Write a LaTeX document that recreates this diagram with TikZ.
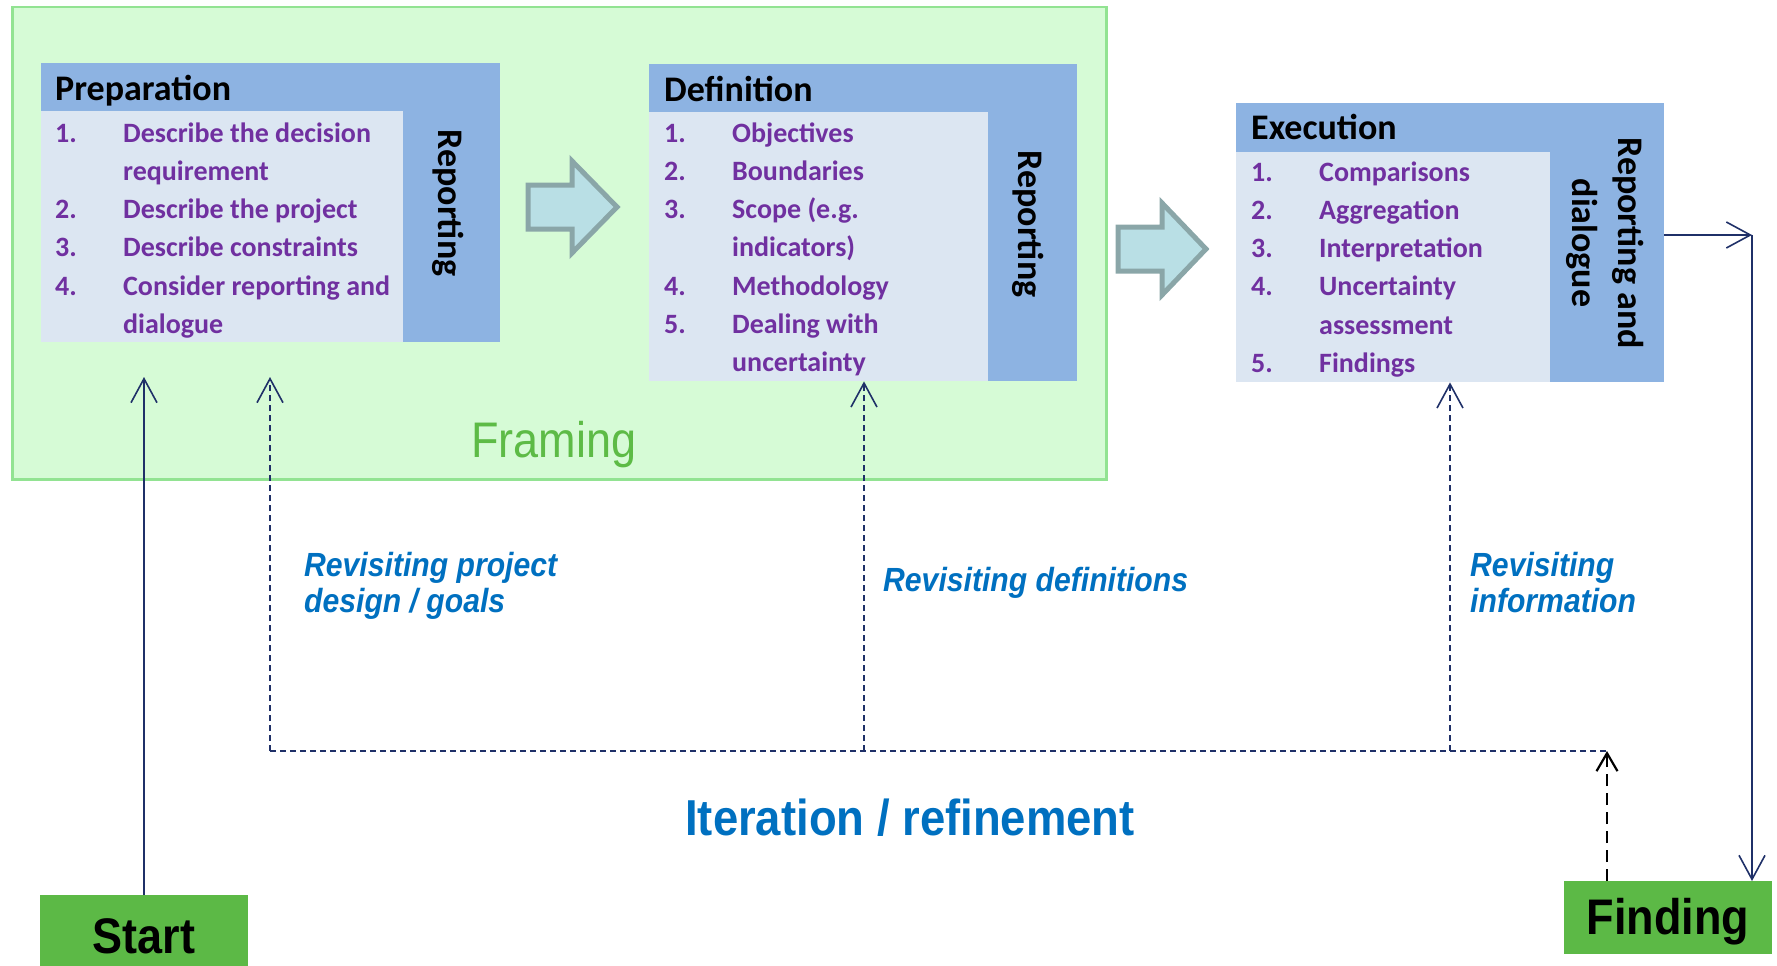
\documentclass[tikz,border=0pt]{standalone}
\usepackage{fontspec}
\setmainfont{Carlito}
\newfontfamily\arialfont[FakeStretch=0.9]{Liberation Sans}
\usetikzlibrary{arrows.meta}

\definecolor{frameFill}{HTML}{D6FBD6}
\definecolor{frameLine}{HTML}{92E392}
\definecolor{frameText}{HTML}{5DBB46}
\definecolor{headBlue}{HTML}{8DB3E2}
\definecolor{panelBlue}{HTML}{DCE6F2}
\definecolor{itemPurple}{HTML}{7030A0}
\definecolor{flowFill}{HTML}{B9DFE5}
\definecolor{flowLine}{HTML}{8AA6A8}
\definecolor{termGreen}{HTML}{5CB946}
\definecolor{navy}{HTML}{1F3068}
\definecolor{noteBlue}{HTML}{0070C0}

% two-column numbered step list
\newcommand\steplist[1]{%
  \fontsize{28pt}{38.3pt}\selectfont\bfseries\color{itemPurple}%
  \begin{tabular}[t]{@{}p{68pt}@{}l@{}}#1\end{tabular}}

\tikzset{
  phasebox/.style={rectangle, fill=headBlue, inner sep=0pt, anchor=north west},
  panel/.style={fill=panelBlue},
  phasehead/.style={anchor=base west, inner sep=0pt, font=\fontsize{36pt}{40pt}\selectfont\bfseries},
  steps/.style={anchor=base west, inner sep=0pt},
  sidetext/.style={rotate=-90, inner sep=0pt, align=center,
    font=\fontsize{36pt}{46pt}\selectfont\bfseries},
  flowarrow/.style={fill=flowFill, draw=flowLine, line width=5pt, line join=miter},
  openarrow/.style={-{Straight Barb[length=24pt,width=26pt]}},
  smallarrow/.style={-{Straight Barb[length=18pt,width=21pt]}},
  navyline/.style={draw=navy, line width=1.6pt},
  navydash/.style={draw=navy, line width=1.6pt, dash pattern=on 6pt off 4pt},
  blackdash/.style={draw=black, line width=2.2pt, dash pattern=on 12pt off 7pt},
  terminal/.style={rectangle, fill=termGreen, inner sep=0pt, anchor=north west},
  termtext/.style={font=\arialfont\fontsize{50pt}{56pt}\selectfont\bfseries},
  note/.style={anchor=north west, inner sep=0pt, align=left, text=noteBlue,
    font=\arialfont\fontsize{33.5pt}{36pt}\selectfont\bfseries\itshape},
}

\begin{document}
\begin{tikzpicture}[x=1pt, y=-1pt]
\useasboundingbox (0,0) rectangle (1777,966);

% framing area
\node[rectangle, fill=frameFill, draw=frameLine, line width=2.5pt, anchor=north west,
  minimum width=1094, minimum height=472, inner sep=0pt] (framing) at (11,6) {};
\node[text=frameText, font=\arialfont\fontsize{50pt}{56pt}\selectfont] (framinglabel) at (554,445) {Framing};

% Preparation
\node[phasebox, minimum width=459, minimum height=279] (prep) at (41,63) {};
\fill[panel] (41,111) rectangle (403,342);
\node[phasehead] (prephead) at (55,100) {Preparation};
\node[steps] (prepsteps) at (55,142) {\steplist{%
  1. & Describe the decision\\
     & requirement\\
  2. & Describe the project\\
  3. & Describe constraints\\
  4. & Consider reporting and\\
     & dialogue}};
\node[sidetext] (prepside) at (448,203) {Reporting};

% Definition
\node[phasebox, minimum width=428, minimum height=317] (def) at (649,64) {};
\fill[panel] (649,112) rectangle (988,381);
\node[phasehead] (defhead) at (664,101) {Definition};
\node[steps] (defsteps) at (664,142) {\steplist{%
  1. & Objectives\\
  2. & Boundaries\\
  3. & Scope (e.g.\\
     & indicators)\\
  4. & Methodology\\
  5. & Dealing with\\
     & uncertainty}};
\node[sidetext] (defside) at (1028,224) {Reporting};

% Execution
\node[phasebox, minimum width=428, minimum height=279] (exec) at (1236,103) {};
\fill[panel] (1236,152) rectangle (1550,382);
\node[phasehead] (exechead) at (1251,139) {Execution};
\node[steps] (execsteps) at (1251,181) {\steplist{%
  1. & Comparisons\\
  2. & Aggregation\\
  3. & Interpretation\\
  4. & Uncertainty\\
     & assessment\\
  5. & Findings}};
\node[sidetext] (execside) at (1605,243) {Reporting and\\dialogue};

% block arrows between phases
\draw[flowarrow] (528,185) -- (572,185) -- (572,161) -- (617,207) -- (572,253)
  -- (572,229) -- (528,229) -- cycle;
\draw[flowarrow] (1118,227) -- (1162,227) -- (1162,203) -- (1206,249) -- (1162,295)
  -- (1162,271) -- (1118,271) -- cycle;

% terminals
\node[terminal, minimum width=208, minimum height=72] (start) at (40,895) {};
\node[termtext] (starttext) at (144,936) {Start};
\node[terminal, minimum width=208, minimum height=73] (finding) at (1564,881) {};
\node[termtext] (findingtext) at (1668,922) {Finding};

% connector anchors
\coordinate (startTip) at (144,377);
\coordinate (loopA) at (270,751);
\coordinate (loopATip) at (270,377);
\coordinate (loopB) at (864,751);
\coordinate (loopC) at (1450,751);
\coordinate (loopEnd) at (1607,751);
\coordinate (outCorner) at (1752,235);

% main flow
\draw[navyline, openarrow] (start.north -| startTip) -- (startTip);
\draw[navyline, openarrow] (exec.east |- outCorner) -- (outCorner);
\draw[navyline, openarrow] (outCorner) -- (finding.north -| outCorner);

% iteration loop
\draw[navydash] (loopA) -- (loopEnd);
\draw[navydash, openarrow] (loopA) -- (loopATip);
\draw[navydash, openarrow] (loopB) -- (loopB |- def.south);
\draw[navydash, openarrow] (loopC) -- (loopC |- exec.south);
\draw[blackdash, smallarrow] (finding.north -| loopEnd) -- (loopEnd);

% loop labels
\node[note] (noteA) at (304,552) {Revisiting project\\design / goals};
\node[note] (noteB) at (883,567) {Revisiting definitions};
\node[note] (noteC) at (1470,552) {Revisiting\\information};
\node[text=noteBlue, font=\arialfont\fontsize{50.5pt}{56pt}\selectfont\bfseries] (iteration) at (910,818) {Iteration / refinement};
\end{tikzpicture}
\end{document}
